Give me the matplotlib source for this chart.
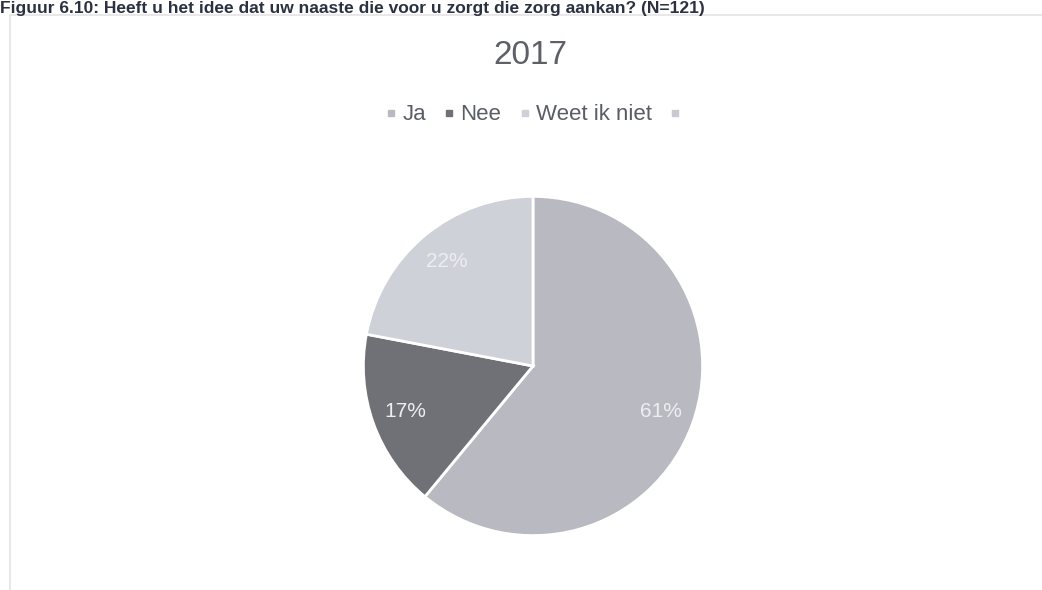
import matplotlib.pyplot as plt
from matplotlib.lines import Line2D
from matplotlib.patches import Rectangle

plt.rcParams['font.family'] = ['Liberation Sans', 'DejaVu Sans']

caption = "Figuur 6.10: Heeft u het idee dat uw naaste die voor u zorgt die zorg aankan? (N=121)"
title = "2017"
categories = ["Ja", "Nee", "Weet ik niet", ""]
shares = [61, 17, 22]
colors = ["#b9bac1", "#707177", "#cfd1d8", "#c9cacf"]

fig = plt.figure(figsize=(10.42, 5.90), dpi=100)

# caption line above the chart border
fig.text(0.0, 1.0 - 1/590, caption, fontsize=12.5, fontweight='bold',
         color='#2b3140', ha='left', va='top')

# light chart border
fig.patches.append(Rectangle((10/1042, -0.01), 1.0, 1 - 15/590 + 0.01,
                             transform=fig.transFigure, fill=False,
                             edgecolor='#e4e4e6', linewidth=1.2))

fig.text(530/1042, 1 - 55/590, title, fontsize=24, color='#5e6068',
         ha='center', va='center')

cx, cy, r = 533, 366, 173
ax = fig.add_axes([(cx - r)/1042, (590 - cy - r)/590, 2*r/1042, 2*r/590])
wedges, texts, autotexts = ax.pie(
    shares, colors=colors[:3], startangle=90, counterclock=False,
    autopct='%d%%', pctdistance=0.8,
    wedgeprops=dict(edgecolor='white', linewidth=2),
    textprops=dict(color='#eeeef2', fontsize=15))
ax.set_xlim(-1.02, 1.02)
ax.set_ylim(-1.02, 1.02)
ax.set_aspect('equal')
ax.axis('off')

handles = [Line2D([], [], marker='s', linestyle='none', markersize=4.5,
                  markerfacecolor=c, markeredgecolor=c) for c in colors]
fig.legend(handles, categories, loc='center', bbox_to_anchor=(536/1042, 1 - 115/590),
           ncol=4, frameon=False, fontsize=16, labelcolor='#5a5d66',
           handlelength=0.5, handletextpad=0.25, columnspacing=0.8)

fig.savefig('out.png', dpi=100)
